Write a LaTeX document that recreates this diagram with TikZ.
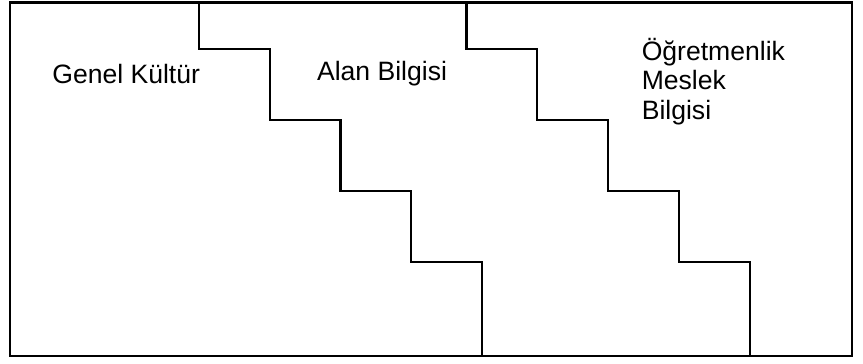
\documentclass[tikz,border=0pt]{standalone}
\usepackage{fontspec}
\setmainfont{Liberation Sans}
\usetikzlibrary{positioning}

\begin{document}
\begin{tikzpicture}[
  x=1pt, y=-1pt,
  every node/.style={font=\fontsize{27}{29.6}\selectfont},
  frame/.style={line width=2.2pt, line join=miter},
  area/.style={anchor=base west, inner sep=0pt, align=left},
]
  \useasboundingbox (0,0) rectangle (877,369);
  % outer box
  \draw[frame] (10,2.5) rectangle (866,361.5);
  % two staircases, second one shifted right
  \foreach \dx in {0,272}
    \draw[frame] (202+\dx,2.5) |- (274+\dx,50) |- (346+\dx,122)
      |- (418+\dx,194) |- (490+\dx,266) -- (490+\dx,361.5);
  % labels
  \node[area] (genel) at (53,85) {Genel Kültür};
  \node[area] (alan) at (322,82) {Alan Bilgisi};
  \node[area] (ogretmen) at (652,121) {Öğretmenlik\\Meslek\\Bilgisi};
\end{tikzpicture}
\end{document}
